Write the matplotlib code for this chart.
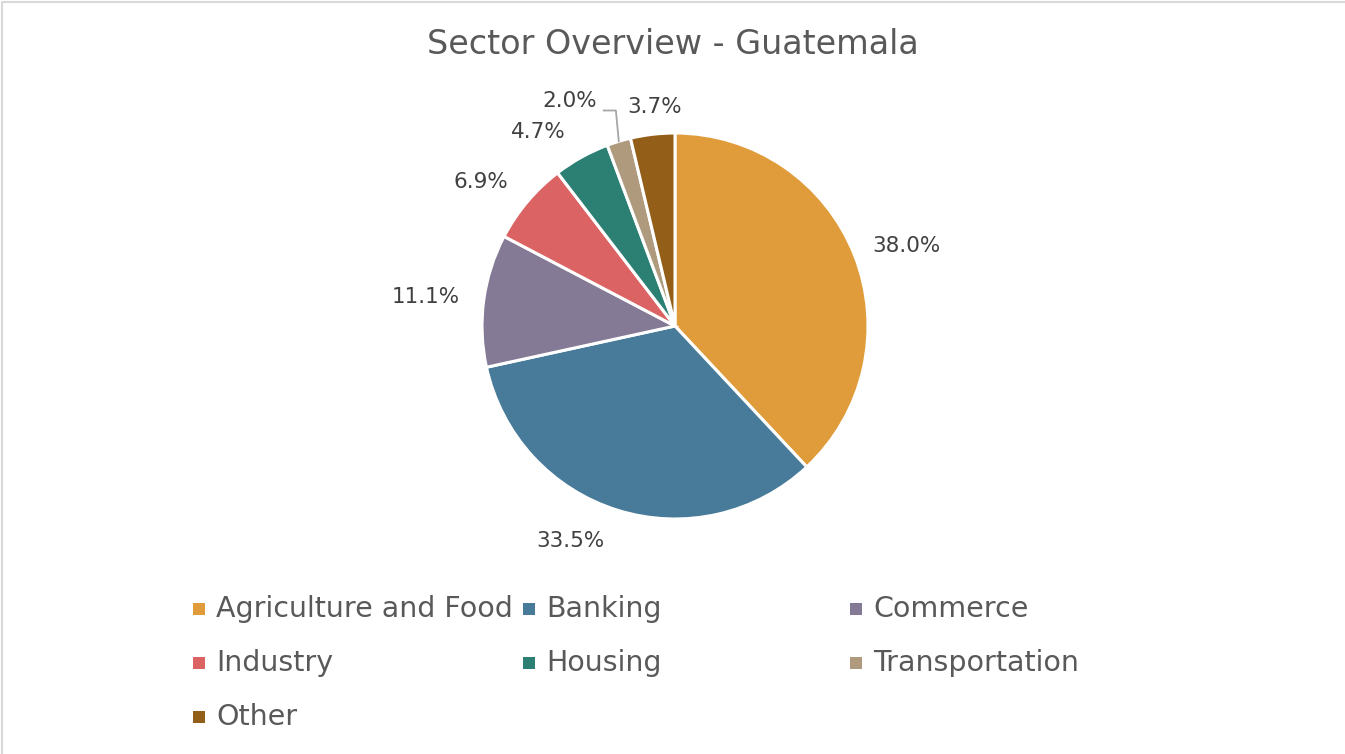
import numpy as np
import matplotlib.pyplot as plt
from matplotlib.patches import Rectangle
from matplotlib.lines import Line2D

# -------------------- data --------------------
sectors = ['Agriculture and Food', 'Banking', 'Commerce', 'Industry',
           'Housing', 'Transportation', 'Other']
shares = [38.0, 33.5, 11.1, 6.9, 4.7, 2.0, 3.7]
colors = ['#E09C3A', '#477B99', '#857A96', '#DB6363',
          '#2B8073', '#B09A7D', '#925E18']

W, H = 1345, 754
fig = plt.figure(figsize=(W / 100, H / 100), dpi=100)
plt.rcParams['font.family'] = ['DejaVu Sans']

# pie axes: centre (675, 326) px, radius 193 px
cx, cy, R = 675, 326, 193
ax = fig.add_axes([(cx - R) / W, (H - cy - R) / H, 2 * R / W, 2 * R / H])
wedges, _ = ax.pie(shares, colors=colors, startangle=90, counterclock=False,
                   wedgeprops=dict(edgecolor='white', linewidth=2.2))
ax.set_xlim(-1, 1)
ax.set_ylim(-1, 1)
ax.set_aspect('equal')
ax.axis('off')

# label placement (distance from centre, angle nudge in degrees)
label_dist = [1.27, 1.24, 1.30, 1.25, 1.23, 1.29, 1.14]
label_shift = [-2.5, -8.5, 1.0, 3.5, 6.1, 8.2, -1.3]
for w, v, d, s in zip(wedges, shares, label_dist, label_shift):
    ang = np.deg2rad((w.theta1 + w.theta2) / 2 + s)
    ax.text(d * np.cos(ang), d * np.sin(ang), f'{v:.1f}%',
            ha='center', va='center', fontsize=15.5, color='#404040',
            clip_on=False)

# leader line for the small transportation slice
wt = wedges[5]
mid = np.deg2rad((wt.theta1 + wt.theta2) / 2)
x0, y0 = np.cos(mid), np.sin(mid)
ax.plot([x0, x0 - 0.015, x0 - 0.078], [y0, y0 + 0.16, y0 + 0.16],
        color='#A6A6A6', lw=1.3, clip_on=False)

fig.text(0.5, 1 - 45 / H, 'Sector Overview - Guatemala', ha='center',
         va='center', fontsize=24, color='#595959')

# legend, filled row by row in three columns
col_x = [193, 523, 850]
row_y = [609, 663, 717]
for i, (name, c) in enumerate(zip(sectors, colors)):
    x = col_x[i % 3]
    y = row_y[i // 3]
    fig.patches.append(Rectangle((x / W, (H - y - 6) / H), 12 / W, 12 / H,
                                 transform=fig.transFigure, facecolor=c,
                                 edgecolor='none'))
    fig.text((x + 23) / W, 1 - y / H, name, ha='left', va='center',
             fontsize=20.5, color='#595959')

# chart border (top and left edges)
fig.lines.append(Line2D([1.5 / W, 1.5 / W, 1], [0, 1 - 1.5 / H, 1 - 1.5 / H],
                        transform=fig.transFigure, color='#D9D9D9', lw=1.5))

fig.savefig('out.png', dpi=100, facecolor='white')
